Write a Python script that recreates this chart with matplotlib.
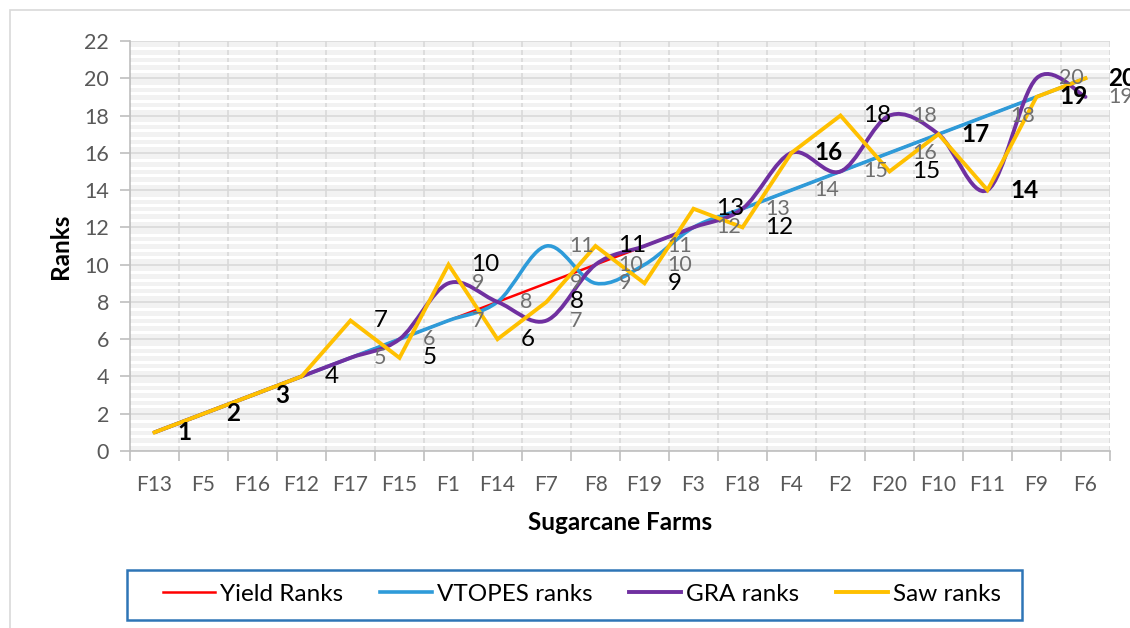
import numpy as np
import matplotlib
matplotlib.use("Agg")
import matplotlib.pyplot as plt
from matplotlib.path import Path
from matplotlib.patches import PathPatch, Rectangle
from matplotlib.lines import Line2D

farms = ['F13', 'F5', 'F16', 'F12', 'F17', 'F15', 'F1', 'F14', 'F7', 'F8',
         'F19', 'F3', 'F18', 'F4', 'F2', 'F20', 'F10', 'F11', 'F9', 'F6']
yield_ranks = [1, 2, 3, 4, 5, 6, 7, 8, 9, 10, 11, 12, 13, 14, 15, 16, 17, 18, 19, 20]
vtopes_ranks = [1, 2, 3, 4, 5, 6, 7, 8, 11, 9, 10, 12, 13, 14, 15, 16, 17, 18, 19, 20]
gra_ranks = [1, 2, 3, 4, 5, 6, 9, 8, 7, 10, 11, 12, 13, 16, 15, 18, 17, 14, 20, 19]
saw_ranks = [1, 2, 3, 4, 7, 5, 10, 6, 8, 11, 9, 13, 12, 16, 18, 15, 17, 14, 19, 20]

plt.rcParams['font.family'] = ['Lato', 'DejaVu Sans']


def smooth_path(x, y):
    # excel-like smoothed line: catmull-rom converted to cubic bezier
    pts = np.column_stack([x, y]).astype(float)
    n = len(pts)
    verts = [pts[0]]
    codes = [Path.MOVETO]
    for i in range(n - 1):
        p0 = pts[i - 1] if i > 0 else pts[i]
        p1 = pts[i]
        p2 = pts[i + 1]
        p3 = pts[i + 2] if i + 2 < n else pts[i + 1]
        c1 = p1 + (p2 - p0) / 6.0
        c2 = p2 - (p3 - p1) / 6.0
        verts += [c1, c2, p2]
        codes += [Path.CURVE4] * 3
    return Path(verts, codes)


W, H = 1130, 628
fig = plt.figure(figsize=(W / 100, H / 100), dpi=100)
ax = fig.add_axes([130 / W, 1 - 451 / H, 980 / W, 410 / H])

# outer chart border
fig.patches.append(Rectangle((10 / W, -0.1), 1.2, (618 / H) + 0.1,
                             transform=fig.transFigure, fill=False,
                             edgecolor='#d9d9d9', linewidth=1.2))

x = np.arange(len(farms))
ax.set_facecolor('#f2f2f2')

ax.plot(x, yield_ranks, color='#ff0000', linewidth=1.8, zorder=3)
ax.add_patch(PathPatch(smooth_path(x, vtopes_ranks), fill=False,
                       edgecolor='#2e9bd9', linewidth=2.6, zorder=4,
                       capstyle='round', joinstyle='round'))
ax.add_patch(PathPatch(smooth_path(x, gra_ranks), fill=False,
                       edgecolor='#7030a0', linewidth=2.8, zorder=5,
                       capstyle='round', joinstyle='round'))
ax.plot(x, saw_ranks, color='#ffc000', linewidth=2.8, zorder=6,
        solid_joinstyle='miter')

# data labels: gray for yield/vtopes/gra, black for saw.
# where labels stack on the same spot they print once (darker, like the excel overlap)
gray = '#6f6f6f'
for i, xi in enumerate(x):
    grays = sorted({yield_ranks[i], vtopes_ranks[i], gra_ranks[i]})
    s = saw_ranks[i]
    for v in grays:
        if v == s:
            continue
        ax.annotate(str(v), (xi, v), xytext=(16.5, 0), textcoords='offset points',
                    ha='left', va='center', color=gray, fontsize=15.5, zorder=7,
                    annotation_clip=False)
    ax.annotate(str(s), (xi, s), xytext=(16.5, 0), textcoords='offset points',
                ha='left', va='center', color='black', fontsize=17.5, zorder=8,
                fontweight='bold' if (s in grays and i != 3) else 'normal',
                annotation_clip=False)

ax.set_xlim(-0.5, len(farms) - 0.5)
ax.set_ylim(0, 22)
ax.set_xticks(x)
ax.set_xticklabels(farms)
ax.set_xticks(np.arange(-0.5, len(farms)), minor=True)
ax.set_yticks(np.arange(0, 23, 2))
ax.set_yticks(np.arange(0, 22.01, 0.4), minor=True)
ax.tick_params(axis='x', which='major', length=0, pad=17, labelsize=15, labelcolor='#595959')
ax.tick_params(axis='x', which='minor', length=7, color='#bfbfbf', width=1.2)
ax.tick_params(axis='y', which='major', length=7, color='#bfbfbf', width=1.2,
               labelsize=15.5, labelcolor='#595959', pad=8)
ax.tick_params(axis='y', which='minor', length=0)

ax.grid(axis='y', which='minor', color='white', linewidth=2.2, zorder=0)
ax.grid(axis='y', which='major', color='#d9d9d9', linewidth=1.2, zorder=1)
ax.grid(axis='x', which='minor', color='#d9d9d9', linewidth=1.2, zorder=1)
ax.set_axisbelow(True)

for s in ['top', 'right']:
    ax.spines[s].set_visible(False)
ax.spines['left'].set_color('#bfbfbf')
ax.spines['bottom'].set_color('#bfbfbf')
ax.spines['left'].set_linewidth(1.2)
ax.spines['bottom'].set_linewidth(1.2)

ax.set_xlabel('Sugarcane Farms', fontsize=17.5, fontweight='bold', labelpad=12)
ax.set_ylabel('Ranks', fontsize=17.5, fontweight='bold', labelpad=9)

handles = [Line2D([], [], color='#ff0000', linewidth=1.8),
           Line2D([], [], color='#2e9bd9', linewidth=2.6),
           Line2D([], [], color='#7030a0', linewidth=2.8),
           Line2D([], [], color='#ffc000', linewidth=2.8)]
names = ['Yield Ranks', 'VTOPES ranks', 'GRA ranks', 'Saw ranks']
leg = fig.legend(handles, names, ncol=4, loc='center',
                 bbox_to_anchor=(582 / W, 1 - 594 / H),
                 fontsize=17.5, handlelength=2.15, handletextpad=0.2,
                 columnspacing=1.5, frameon=False, borderpad=0.2)

# legend box
fig.patches.append(Rectangle((127 / W, 1 - 620 / H), 895 / W, 50 / H,
                             transform=fig.transFigure, fill=False,
                             edgecolor='#2e75b6', linewidth=1.8))

fig.savefig('out.png', dpi=100)
